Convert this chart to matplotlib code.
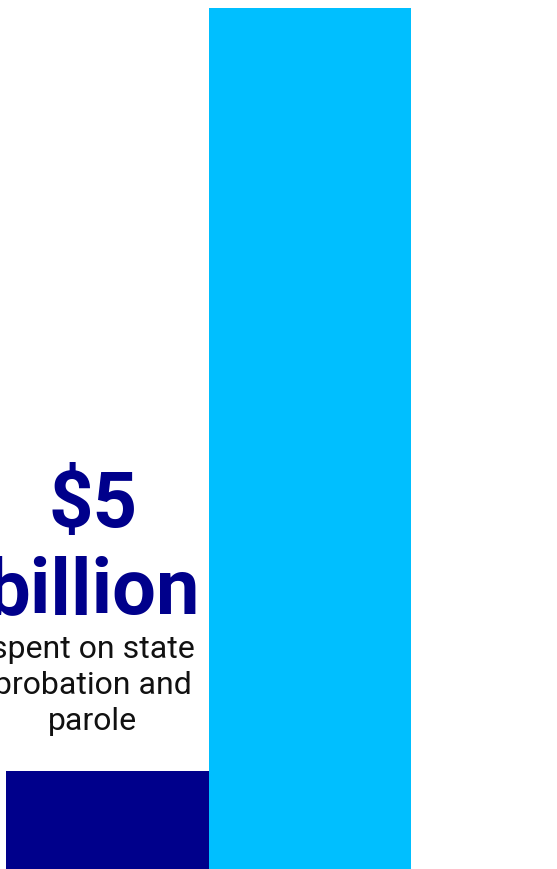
import matplotlib.pyplot as plt

# state spending, billions of dollars
categories = ['Probation and parole', 'Other corrections']
spending = [5, 44]
colors = ['#00008b', '#00bfff']
headline = '$5\nbillion'
caption = 'spent on state\nprobation and\nparole'

fig = plt.figure(figsize=(5.57, 8.69), dpi=100)
ax = fig.add_axes([0, 0, 1, 1])
ax.bar(range(len(categories)), spending, width=1.0, color=colors)

# bar 0 spans pixels 6..208, so 1 unit ~ 202.5 px
ax.set_xlim(-0.5 - 6 / 202.5, 1.5 + 146 / 202.5)
ax.set_ylim(0, spending[1] * 869 / 861)
ax.axis('off')

ax.annotate(caption, xy=(0, spending[0]), xytext=(-10.5, 29.5), textcoords='offset points',
            ha='center', va='baseline', fontsize=23, family='Roboto', color='#111111',
            linespacing=1.31, annotation_clip=False)
ax.annotate(headline, xy=(0, spending[0]), xytext=(-10, 114), textcoords='offset points',
            ha='center', va='baseline', fontsize=56, family='Roboto', fontweight='bold',
            color=colors[0], linespacing=1.2, annotation_clip=False)

plt.savefig('out.png', dpi=100)
